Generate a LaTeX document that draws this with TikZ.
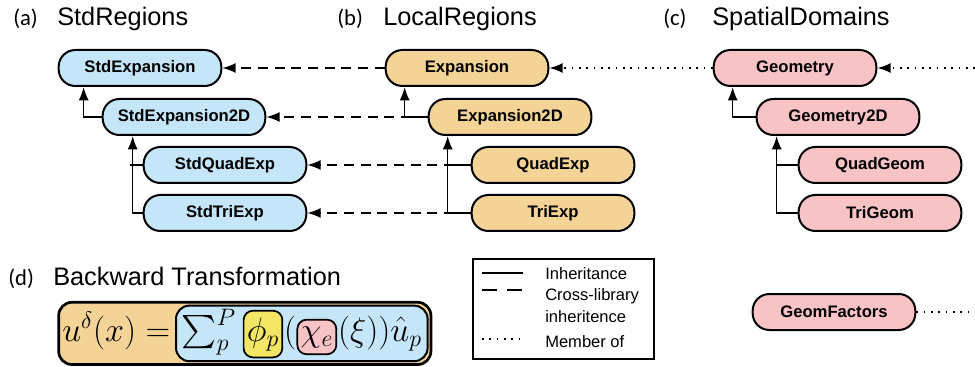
\RequirePackage{fix-cm}
\documentclass[tikz,border=0pt]{standalone}
\usepackage{amsmath}
\usepackage[no-math]{fontspec}
\setmainfont{Liberation Sans}
\newfontfamily\tagfont{Carlito}
\usetikzlibrary{positioning, calc, arrows.meta, fit, backgrounds}

\definecolor{stdblue}{RGB}{196,230,248}
\definecolor{locorange}{RGB}{243,211,150}
\definecolor{spapink}{RGB}{247,195,196}
\definecolor{phiyellow}{RGB}{242,230,100}

\tikzset{
    cls/.style={draw, line width=1.5pt, rounded corners=12.5pt, minimum width=122pt, minimum height=27pt, inner sep=0pt, font=\fontsize{12.5}{14}\selectfont\bfseries},
    std/.style={cls, fill=stdblue},
    loc/.style={cls, fill=locorange},
    spa/.style={cls, fill=spapink},
    tip/.style={-{Latex[length=10pt,width=7.5pt]}},
    inh/.style={line width=1.2pt, tip},
    cross/.style={line width=1.2pt, dash pattern=on 7.5pt off 5pt, tip},
    member/.style={line width=1.3pt, dash pattern=on 1.2pt off 4.3pt},
    tag/.style={anchor=base west, inner sep=0pt, font=\tagfont\fontsize{17}{20}\selectfont},
    ttl/.style={anchor=base west, inner sep=0pt, font=\fontsize{19}{22}\selectfont},
    leg/.style={anchor=base west, inner sep=0pt, font=\fontsize{12.4}{14}\selectfont},
    eq/.style={anchor=base west, inner sep=0pt, font=\fontsize{25.5}{29}\selectfont},
    eqbox/.style={draw, line width=1.3pt, rounded corners=7pt, inner xsep=2.5pt, inner ysep=5pt}
}

\begin{document}
\begin{tikzpicture}[x=0.75pt, y=-0.75pt]
    \useasboundingbox (0,0) rectangle (975,367);

    % panel titles
    \node[tag] (taga) at (13,26) {(a)};
    \node[ttl] (ttla) at (57,26) {StdRegions};
    \node[tag] (tagb) at (337,26) {(b)};
    \node[ttl] (ttlb) at (383,26) {LocalRegions};
    \node[tag] (tagc) at (663,26) {(c)};
    \node[ttl] (ttlc) at (712,26) {SpatialDomains};
    \node[tag] (tagd) at (8,285) {(d)};
    \node[ttl] (ttld) at (53,285) {Backward Transformation};

    % (a) StdRegions
    \node[std] (sexp) at (140,68) {StdExpansion};
    \node[std] (s2d) at (184,117) {StdExpansion2D};
    \node[std] (sqe) at (225,165) {StdQuadExp};
    \node[std] (ste) at (225,213) {StdTriExp};
    \draw[inh] (s2d.west) -| ($(sexp.south west)+(26,0)$);
    \draw[inh] (ste.west) -| ($(s2d.south west)+(31,0)$);
    \draw[line width=1.2pt] (sqe.west) -- ($(sqe.west)+(-13,0)$);

    % (b) LocalRegions
    \node[loc] (exp) at (467,68) {Expansion};
    \node[loc] (e2d) at (510,117) {Expansion2D};
    \node[loc] (qe) at (553,165) {QuadExp};
    \node[loc] (te) at (553,213) {TriExp};
    \draw[inh] (e2d.west) -| ($(exp.south west)+(20,0)$);
    \draw[inh] (te.west) -| ($(e2d.south west)+(20,0)$);
    \draw[line width=1.2pt] (qe.west) -- ($(qe.west)+(-23,0)$);

    % (c) SpatialDomains
    \node[spa] (geo) at (795,68) {Geometry};
    \node[spa] (g2d) at (838,117) {Geometry2D};
    \node[spa] (qg) at (880,165) {QuadGeom};
    \node[spa] (tg) at (880,213) {TriGeom};
    \node[spa] (gf) at (834,312) {GeomFactors};
    \draw[inh] (g2d.west) -| ($(geo.south west)+(20,0)$);
    \draw[inh] (tg.west) -| ($(g2d.south west)+(21,0)$);
    \draw[line width=1.2pt] (qg.west) -- ($(qg.west)+(-22,0)$);

    % cross-library links
    \draw[cross] (exp.west) -- (sexp.east);
    \draw[cross] (e2d.west) -- (s2d.east);
    \draw[cross] (qe.west) -- (sqe.east);
    \draw[cross] (te.west) -- (ste.east);

    % members
    \coordinate (geoin) at (975,68);
    \coordinate (gfout) at (975,312);
    \draw[member, tip] (geo.west) -- (exp.east);
    \draw[member, tip] (geoin) -- (geo.east);
    \draw[member] (gf.east) -- (gfout);

    % legend
    \draw[line width=1.2pt] (473,259) rectangle (654,359);
    \draw[line width=1.2pt] (482,273) -- (523,273);
    \draw[line width=1.2pt, dash pattern=on 11pt off 8pt] (482,290) -- (523,290);
    \draw[member] (482,339) -- (523,339);
    \node[leg] (legi) at (545,279) {Inheritance};
    \node[leg] (legc) at (545,300) {Cross-library};
    \node[leg] (legc2) at (545,322) {inheritence};
    \node[leg] (legm) at (545,347) {Member of};

    % (d) equation
    \node[eq] (lhs) at (62,341) {$u^{\delta}(x)=$};
    \node[eq] (sum) at ([xshift=8.5pt]lhs.base east) {$\sum_p^P$};
    \node[eq, eqbox, fill=phiyellow] (phi) at ([xshift=5pt]sum.base east) {$\phi_p$};
    \node[eq] (par) at ([xshift=0.5pt]phi.base east) {$($};
    \node[eq, eqbox, fill=spapink] (chi) at (par.base east) {$\chi_e$};
    \node[eq] (rest) at ([xshift=0.5pt]chi.base east) {$(\xi))\hat{u}_p$};
    \begin{scope}[on background layer]
        \node[fit=(sum)(phi)(chi)(rest), inner xsep=4pt, inner ysep=2pt] (rhs) {};
        \node[fit=(lhs)(rhs), inner sep=2.5pt, draw, line width=2pt, rounded corners=10pt, fill=locorange] (eqn) {};
        \node[fit=(rhs), inner sep=0pt, draw, line width=1.5pt, rounded corners=10pt, fill=stdblue] (rhsbox) {};
    \end{scope}
\end{tikzpicture}
\end{document}
